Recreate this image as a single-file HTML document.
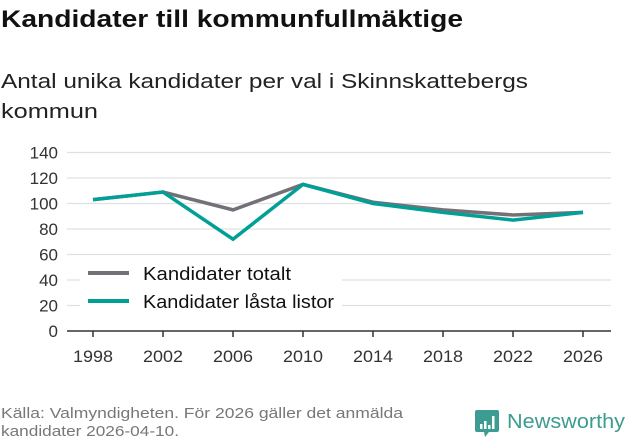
<!DOCTYPE html>
<html><head><meta charset="utf-8"><style>
body{margin:0;background:#fff;}
svg{display:block;font-family:"Liberation Sans","DejaVu Sans",sans-serif;}
</style></head><body>
<svg id="chart" width="631" height="439" viewBox="0 0 631 439" xmlns="http://www.w3.org/2000/svg">
<text x="1" y="27" font-size="24" font-weight="bold" fill="#111" textLength="462" lengthAdjust="spacingAndGlyphs">Kandidater till kommunfullmäktige</text>
<text x="1" y="88" font-size="20" fill="#222" textLength="527" lengthAdjust="spacingAndGlyphs">Antal unika kandidater per val i Skinnskattebergs</text>
<text x="1" y="118" font-size="20" fill="#222" textLength="97" lengthAdjust="spacingAndGlyphs">kommun</text>
<g id="grid"></g>
<g id="yticks"></g>
<line x1="67" y1="331" x2="611" y2="331" stroke="#333" stroke-width="1.5"/>
<g id="xticks"></g>
<g id="series"></g>
<g>
<rect x="80" y="256" width="262" height="58" fill="#fff"/>
<line x1="88" y1="273" x2="129" y2="273" stroke="#737177" stroke-width="4"/>
<text x="143" y="280" font-size="18" fill="#111" textLength="148" lengthAdjust="spacingAndGlyphs">Kandidater totalt</text>
<line x1="88" y1="301" x2="129" y2="301" stroke="#00a096" stroke-width="4"/>
<text x="143" y="308" font-size="18" fill="#111" textLength="191" lengthAdjust="spacingAndGlyphs">Kandidater låsta listor</text>
</g>
<text x="1" y="418" font-size="15" fill="#777" textLength="402" lengthAdjust="spacingAndGlyphs">Källa: Valmyndigheten. För 2026 gäller det anmälda</text>
<text x="1" y="436" font-size="15" fill="#777" textLength="178" lengthAdjust="spacingAndGlyphs">kandidater 2026-04-10.</text>
<g>
<path d="M477 410 h20 a2 2 0 0 1 2 2 v18 a2 2 0 0 1 -2 2 h-8 l-4 5 l-1 -5 h-7 a2 2 0 0 1 -2 -2 v-18 a2 2 0 0 1 2 -2z" fill="#3d9c91"/>
<rect x="480" y="424" width="2.5" height="5" fill="#fff"/>
<rect x="484" y="421" width="2.5" height="8" fill="#fff"/>
<rect x="488" y="425" width="2.5" height="4" fill="#fff"/>
<rect x="492" y="416" width="2.5" height="13" fill="#fff"/>
<text x="507" y="428" font-size="20" fill="#3d9c91" textLength="118" lengthAdjust="spacingAndGlyphs">Newsworthy</text>
</g>
</svg>
<script>
const years=[1998,2002,2006,2010,2014,2018,2022,2026];
const totalt=[103,109,95,115,101,95,91,93];
const lasta=[103,109,72,115,100,93,87,93];
const yTicks=[0,20,40,60,80,100,120,140];
const NS="http://www.w3.org/2000/svg";
const xS=y=>93+(y-1998)/28*490;
const yS=v=>331-v/140*178.5;
const grid=document.getElementById('grid'),yt=document.getElementById('yticks'),xt=document.getElementById('xticks'),ser=document.getElementById('series');
yTicks.forEach(t=>{
 if(t>0){const l=document.createElementNS(NS,'line');
 
 
 l.setAttribute('x1',67);l.setAttribute('x2',611);l.setAttribute('y1',yS(t));l.setAttribute('y2',yS(t));
 l.setAttribute('stroke','#e0e0e0');l.setAttribute('stroke-width','1.2');grid.appendChild(l);}
 const tx=document.createElementNS(NS,'text');
 
 
 tx.setAttribute('x',58);tx.setAttribute('y',yS(t)+6);tx.setAttribute('text-anchor','end');
 tx.setAttribute('font-size','17');tx.setAttribute('fill','#333');tx.textContent=t;yt.appendChild(tx);
});
years.forEach(y=>{
 const l=document.createElementNS(NS,'line');
 
 
 l.setAttribute('x1',xS(y));l.setAttribute('x2',xS(y));l.setAttribute('y1',331);l.setAttribute('y2',337);
 l.setAttribute('stroke','#333');l.setAttribute('stroke-width','1.5');xt.appendChild(l);
 const tx=document.createElementNS(NS,'text');
 
 
 tx.setAttribute('x',xS(y));tx.setAttribute('y',362);tx.setAttribute('text-anchor','middle');
 tx.setAttribute('font-size','17');tx.setAttribute('fill','#333');
 tx.setAttribute('textLength','40');tx.setAttribute('lengthAdjust','spacingAndGlyphs');
 tx.textContent=y;xt.appendChild(tx);
});
function line(vals,color,name){
 const p=document.createElementNS(NS,'polyline');
 
 
 p.setAttribute('points',vals.map((v,i)=>xS(years[i])+','+yS(v)).join(' '));
 p.setAttribute('fill','none');p.setAttribute('stroke',color);p.setAttribute('stroke-width','3.5');
 ser.appendChild(p);
}
line(totalt,'#737177','line-kandidater-totalt');
line(lasta,'#00a096','line-kandidater-lasta-listor');
</script>
</body></html>
